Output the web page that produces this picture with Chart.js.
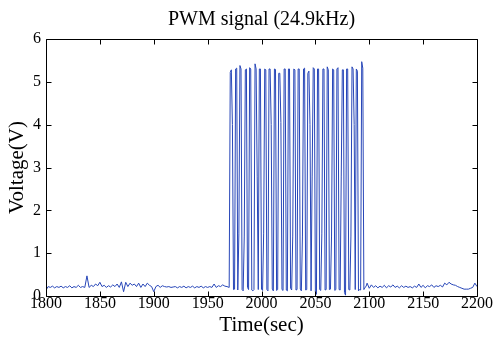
<!DOCTYPE html>
<html>
<head>
<meta charset="utf-8">
<script src="https://cdn.jsdelivr.net/npm/chart.js@4/dist/chart.umd.min.js"></script>
<style>
html,body{margin:0;padding:0;background:#fff;}
#wrap{width:495px;height:337px;}
</style>
</head>
<body>
<div id="wrap"><canvas id="c" width="495" height="337"></canvas></div>
<script>
// ---- data ----
const chartTitle = "PWM signal (24.9kHz)";
const xTitle = "Time(sec)";
const yTitle = "Voltage(V)";
const xTicks = [1800, 1850, 1900, 1950, 2000, 2050, 2100, 2150, 2200];
const yTicks = [0, 1, 2, 3, 4, 5, 6];

// idle segment before the burst: samples from t=1800, every 2 s
const preStart = 1800, preStep = 2;
const preVoltage = [
  0.14,0.22,0.20,0.23,0.19,0.22,0.20,0.23,0.19,0.22,
  0.20,0.24,0.19,0.22,0.20,0.25,0.20,0.22,0.20,0.47,
  0.20,0.25,0.22,0.28,0.24,0.32,0.22,0.25,0.20,0.24,
  0.21,0.26,0.22,0.28,0.20,0.33,0.10,0.32,0.22,0.30,
  0.25,0.28,0.22,0.30,0.20,0.28,0.22,0.30,0.25,0.22,
  0.10,0.22,0.25,0.20,0.24,0.22,0.21,0.22,0.20,0.21,
  0.22,0.19,0.22,0.20,0.23,0.19,0.22,0.20,0.23,0.19,
  0.22,0.20,0.23,0.19,0.22,0.20,0.22,0.20,0.28,0.20,
  0.24,0.22,0.26,0.23,0.22
];

// PWM burst: samples from t=1970, every 1 s
const pulseStart = 1970, pulseStep = 1;
const pulseVoltage = [
  0.20,5.22,5.28,4.00,0.15,0.16,5.30,5.32,0.14,1.45,
  5.38,5.30,0.15,0.12,1.40,5.28,5.30,0.20,0.15,5.33,
  5.30,0.14,0.12,0.15,5.42,5.30,2.80,0.15,5.30,5.30,
  0.16,0.13,1.45,5.30,5.28,0.15,0.12,5.30,5.30,4.00,
  0.16,0.12,5.30,5.29,0.13,0.15,5.20,5.20,4.05,0.15,
  0.13,5.30,5.30,0.14,0.12,5.30,5.30,0.18,0.14,1.40,
  5.30,5.28,0.14,0.15,5.30,5.30,0.16,0.12,1.40,5.30,
  5.32,0.14,0.15,5.20,5.25,4.00,0.12,2.80,5.33,5.30,
  0.10,0.04,5.30,5.30,0.15,0.13,1.45,5.30,5.30,0.14,
  0.15,5.35,5.28,0.15,0.16,1.40,5.30,5.28,0.13,0.15,
  5.30,5.33,0.15,0.14,2.80,5.28,5.28,0.08,0.02,5.30,
  5.30,0.15,0.14,1.40,5.35,5.30,4.00,0.15,5.30,5.25,
  0.12,0.15,0.14,5.47,5.32,0.15,0.20,0.22
];

// idle segment after the burst: samples from t=2098, every 2 s
const postStart = 2098, postStep = 2;
const postVoltage = [
  0.30,0.18,0.26,0.20,0.24,0.19,0.23,0.20,0.25,0.19,
  0.24,0.21,0.26,0.20,0.23,0.19,0.24,0.20,0.23,0.20,
  0.22,0.19,0.23,0.20,0.28,0.20,0.25,0.19,0.24,0.22,
  0.26,0.20,0.24,0.22,0.25,0.21,0.30,0.26,0.32,0.28,
  0.26,0.25,0.22,0.20,0.18,0.16,0.16,0.16,0.18,0.20,
  0.30,0.22
];

// ---- build points ----
function seg(start, step, vals){ return vals.map((v,i)=>({x:start+step*i, y:v})); }
const points = [].concat(
  seg(preStart, preStep, preVoltage),
  seg(pulseStart, pulseStep, pulseVoltage),
  seg(postStart, postStep, postVoltage)
);

const serif = "'Liberation Serif','Times New Roman',serif";

const boxTicks = {
  id: 'boxTicks',
  afterDraw(chart){
    const {ctx, chartArea:a, scales:{x, y}} = chart;
    ctx.save();
    ctx.strokeStyle = '#000';
    ctx.lineWidth = 1;
    const L = Math.round(a.left)+0.5, R = Math.round(a.right)+0.5;
    const T = Math.round(a.top)+0.5, B = Math.round(a.bottom)+0.5;
    ctx.beginPath();
    ctx.rect(L, T, R-L, B-T);
    const tl = 5;
    xTicks.forEach(v=>{
      const px = Math.round(x.getPixelForValue(v))+0.5;
      ctx.moveTo(px, B); ctx.lineTo(px, B-tl);
      ctx.moveTo(px, T); ctx.lineTo(px, T+tl);
    });
    yTicks.forEach(v=>{
      const py = Math.round(y.getPixelForValue(v))+0.5;
      ctx.moveTo(L, py); ctx.lineTo(L+tl, py);
      ctx.moveTo(R, py); ctx.lineTo(R-tl, py);
    });
    ctx.stroke();
    // chart title centred over the plot box
    ctx.fillStyle = '#000';
    ctx.font = "20px " + serif;
    ctx.textAlign = 'center';
    ctx.textBaseline = 'alphabetic';
    ctx.fillText(chartTitle, (a.left + a.right) / 2, 25);
    ctx.restore();
  }
};

new Chart(document.getElementById('c'), {
  type: 'line',
  data: { datasets: [{
    data: points,
    borderColor: '#2746b8',
    borderWidth: 1,
    pointRadius: 0,
    tension: 0,
    fill: false
  }]},
  options: {
    responsive: false,
    animation: false,
    devicePixelRatio: 1,
    layout: { padding: { left: 0, right: 18, top: 39, bottom: 0 } },
    plugins: {
      legend: { display: false },
      tooltip: { enabled: false },
      title: { display: false }
    },
    scales: {
      x: {
        type: 'linear',
        min: 1800, max: 2200,
        grid: { display: false, drawTicks: false },
        border: { display: false },
        afterBuildTicks: s => { s.ticks = xTicks.map(v=>({value:v})); },
        afterFit: s => { s.height = 41; },
        ticks: { color: '#000', font: { family: serif, size: 16 }, padding: -2, maxRotation: 0, autoSkip: false,
                 callback: v => String(v) },
        title: { display: true, text: xTitle, color: '#000', font: { family: serif, size: 21, lineHeight: 1.1 }, padding: { top: 0, bottom: 0 } }
      },
      y: {
        min: 0, max: 6,
        grid: { display: false, drawTicks: false },
        border: { display: false },
        afterBuildTicks: s => { s.ticks = yTicks.map(v=>({value:v})); },
        afterFit: s => { s.width = 46; },
        ticks: { color: '#000', font: { family: serif, size: 16 }, padding: 5, callback: v => String(v) },
        title: { display: true, text: yTitle, color: '#000', font: { family: serif, size: 21, lineHeight: 1.2 }, padding: { top: 5, bottom: 0 } }
      }
    }
  },
  plugins: [boxTicks]
});
</script>
</body>
</html>
